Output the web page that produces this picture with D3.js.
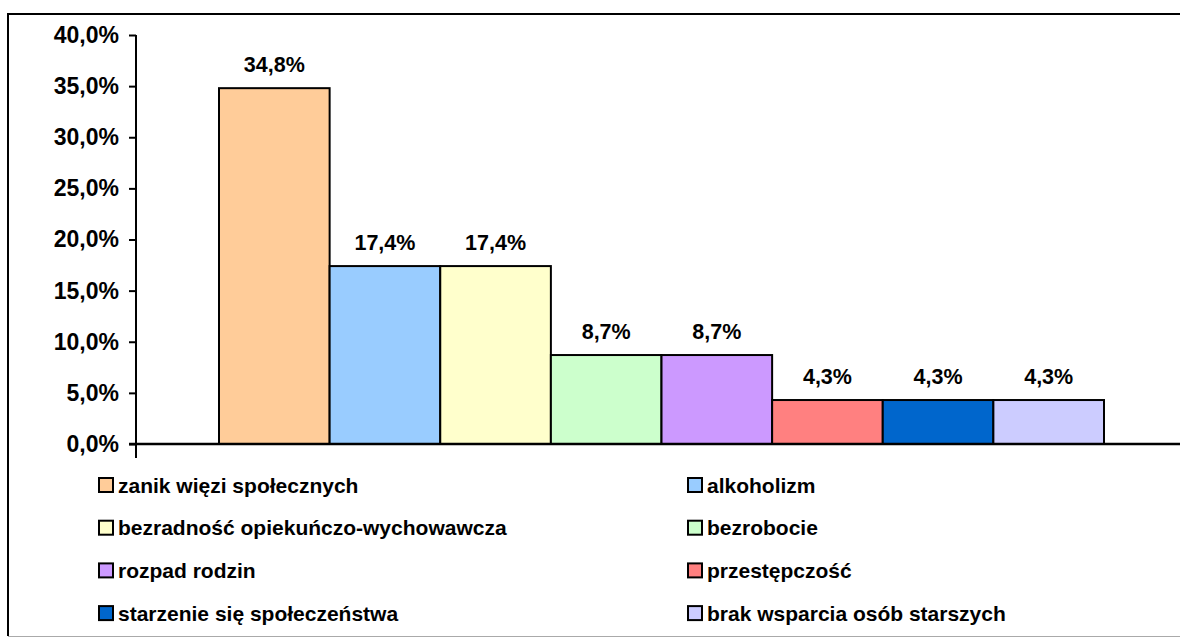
<!DOCTYPE html>
<html>
<head>
<meta charset="utf-8">
<script src="https://cdn.jsdelivr.net/npm/d3@7"></script>
<style>
  html, body { margin: 0; padding: 0; background: #fff; }
  svg { display: block; font-family: "Liberation Sans", Arial, sans-serif; font-weight: bold; }
</style>
</head>
<body>
<div id="chart"></div>
<script>
// data
const categories = [
    "zanik więzi społecznych",
    "alkoholizm",
    "bezradność opiekuńczo-wychowawcza",
    "bezrobocie",
    "rozpad rodzin",
    "przestępczość",
    "starzenie się społeczeństwa",
    "brak wsparcia osób starszych"
];
const values = [34.8, 17.4, 17.4, 8.7, 8.7, 4.3, 4.3, 4.3];
const colors = ["#FFCC99", "#99CCFF", "#FFFFCC", "#CCFFCC", "#CC99FF", "#FF8080", "#0066CC", "#CCCCFF"];
const yTicks = [0, 5, 10, 15, 20, 25, 30, 35, 40];

const width = 1180, height = 639;

const pl = d3.formatLocale({decimal: ",", thousands: " ", grouping: [3], currency: ["", ""]});
const fmt = pl.format(".1f");

let svg = d3.select('#chart')
    .append('svg')
    .attr('width', width)
    .attr('height', height);

// outer frame (cut off on the right)
svg.append('line').attr('x1', 8).attr('x2', 8).attr('y1', 14).attr('y2', 636)
    .style('stroke', '#000').style('stroke-width', 2);
svg.append('line').attr('x1', 7).attr('x2', width).attr('y1', 14).attr('y2', 14)
    .style('stroke', '#000').style('stroke-width', 2);
svg.append('line').attr('x1', 8).attr('x2', width).attr('y1', 636.5).attr('y2', 636.5)
    .style('stroke', '#aaa').style('stroke-width', 1);

let y = d3.scaleLinear().domain([0, 40]).range([444, 35]);
let x = d3.scaleBand().domain(categories).range([219, 1104]).paddingInner(0);

// y axis
let yAxis = svg.append('g')
    .attr('transform', 'translate(136,0)')
    .call(d3.axisLeft(y).tickValues(yTicks).tickSize(7).tickPadding(10)
        .tickFormat(function(d){ return fmt(d) + '%'; }));
yAxis.select('.domain').remove();
yAxis.selectAll('.tick line').style('stroke', '#000').style('stroke-width', 2);
yAxis.selectAll('.tick text')
    .style('font-size', '23px')
    .style('font-family', '"Liberation Sans", Arial, sans-serif')
    .style('font-weight', 'bold')
    .style('fill', '#000');

svg.append('line')
    .attr('x1', 136).attr('x2', 136)
    .attr('y1', y(40)).attr('y2', y(0) + 14)
    .style('stroke', '#000').style('stroke-width', 2);

// bars
svg.selectAll('.bar')
    .data(values)
    .enter().append('rect')
    .attr('class', 'bar')
    .attr('x', function(d, i){ return x(categories[i]); })
    .attr('y', function(d){ return y(d); })
    .attr('width', x.bandwidth())
    .attr('height', function(d){ return y(0) - y(d); })
    .style('fill', function(d, i){ return colors[i]; })
    .style('stroke', '#000')
    .style('stroke-width', 2);

// baseline
svg.append('line')
    .attr('x1', 129).attr('x2', width)
    .attr('y1', y(0)).attr('y2', y(0))
    .style('stroke', '#000').style('stroke-width', 2.5);

// data labels
svg.selectAll('.lbl')
    .data(values)
    .enter().append('text')
    .attr('class', 'lbl')
    .attr('x', function(d, i){ return x(categories[i]) + x.bandwidth() / 2; })
    .attr('y', function(d){ return y(d) - 16; })
    .attr('text-anchor', 'middle')
    .style('font-size', '21.5px')
    .text(function(d){ return fmt(d) + '%'; });

// legend, two columns
let legend = svg.selectAll('.legend')
    .data(categories)
    .enter().append('g')
    .attr('class', 'legend')
    .attr('transform', function(d, i){
        let col = i % 2;
        let row = Math.floor(i / 2);
        return 'translate(' + (col == 0 ? 99 : 688) + ',' + (485 + row * 42.7) + ')';
    });

legend.append('rect')
    .attr('x', 0).attr('y', -7)
    .attr('width', 14).attr('height', 14)
    .style('fill', function(d, i){ return colors[i]; })
    .style('stroke', '#000')
    .style('stroke-width', 2);

legend.append('text')
    .attr('x', 19).attr('y', 7.5)
    .style('font-size', '21px')
    .text(function(d){ return d; });
</script>
</body>
</html>
